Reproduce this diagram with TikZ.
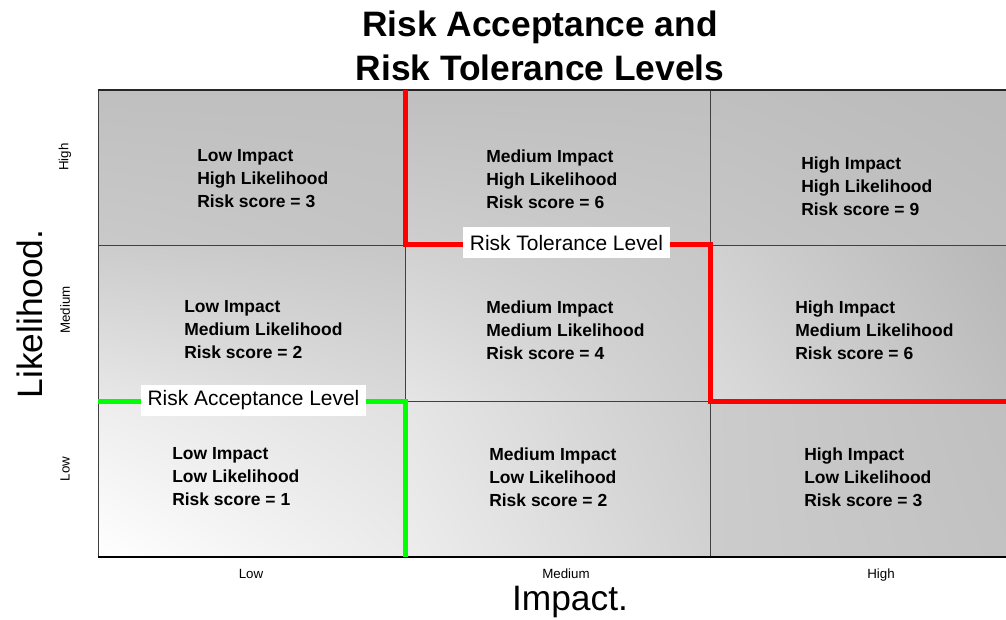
\documentclass[tikz,border=0pt]{standalone}
\usepackage{fontspec}
\setmainfont{Liberation Sans}
\usetikzlibrary{positioning,calc,shadings}
\tikzset{
  cellline/.style={draw=black!75,line width=0.6pt},
  frameline/.style={draw=black!85,line width=1.5pt},
  tolerance/.style={draw=red,line width=3.75pt},
  acceptance/.style={draw=green,line width=3.75pt},
  leveltag/.style={fill=white,inner xsep=5pt,minimum height=23.25pt,
    font=\fontsize{15.7}{18}\selectfont},
}

\begin{document}
\begin{tikzpicture}[x=0.75pt,y=-0.75pt,
      celltext/.style={anchor=west,align=left,inner xsep=0pt,
        font=\bfseries\fontsize{13.1}{17.3}\selectfont},
      ticklabel/.style={font=\fontsize{10}{12}\selectfont},
      axislabel/.style={font=\fontsize{26.5}{30}\selectfont},]
      \useasboundingbox (0,0) rectangle (1006,620);

      % shaded cells: x1/x2/y1/y2 and grey levels at the four corners
      \foreach \xa/\xb/\ya/\yb/\ll/\ul/\lr/\ur in {
          98/405/557/401/0/7/8/12, 405/710/557/401/7/10/18/20,
          710/1006/557/401/20/20/24/25,
          98/405/401/245/9/20/15/22, 405/710/401/245/10/18/20/22,
          710/1006/401/245/14/18/25/28,
          98/405/245/90/21/25/23/25, 405/710/245/90/19/25/22/25,
          710/1006/245/90/22/25/25/27}
        \shade[lower left=black!\ll,upper left=black!\ul,
          lower right=black!\lr,upper right=black!\ur] (\xa,\ya) rectangle (\xb,\yb);

      \draw[cellline] (98,245) -- (1006,245);
      \draw[cellline] (98,401) -- (1006,401);
      \draw[cellline] (405,90) -- (405,557);
      \draw[cellline] (710,90) -- (710,557);
      \draw[cellline] (98,90) -- (98,557);
      \draw[frameline] (98,90) -- (1006,90);
      \draw[frameline,draw=black] (98,557) -- (1006,557);

      % level boundaries
      \coordinate (tol1) at (405,90);
      \coordinate (tol2) at (405,245);
      \coordinate (tol3) at (710,245);
      \coordinate (tol4) at (710,401);
      \coordinate (tol5) at (1006,401);
      \draw[tolerance] (tol1) -- (tol2) -- (tol3) -- (tol4) -- (tol5);
      \coordinate (acc1) at (98,401);
      \coordinate (acc2) at (405,401);
      \coordinate (acc3) at (405,557);
      \draw[acceptance] (acc1) -- (acc2) -- (acc3);
      \node[leveltag] (toltag) at (566.5,243) {Risk Tolerance Level};
      \node[leveltag] (acctag) at (253.5,400) {Risk Acceptance Level};

      % cell texts
      \node[celltext] (hl) at (197,179) {Low Impact\\High Likelihood\\Risk score = 3};
      \node[celltext] (hm) at (486,179) {Medium Impact\\High Likelihood\\Risk score = 6};
      \node[celltext] (hh) at (801,186) {High Impact\\High Likelihood\\Risk score = 9};
      \node[celltext] (ml) at (184,330) {Low Impact\\Medium Likelihood\\Risk score = 2};
      \node[celltext] (mm) at (486,330) {Medium Impact\\Medium Likelihood\\Risk score = 4};
      \node[celltext] (mh) at (795,330) {High Impact\\Medium Likelihood\\Risk score = 6};
      \node[celltext] (ll) at (172,477) {Low Impact\\Low Likelihood\\Risk score = 1};
      \node[celltext] (lm) at (489,477) {Medium Impact\\Low Likelihood\\Risk score = 2};
      \node[celltext] (lh) at (804,477) {High Impact\\Low Likelihood\\Risk score = 3};

      % axes
      \node[ticklabel,anchor=base] (xlow) at (251,578) {Low};
      \node[ticklabel,anchor=base] (xmed) at (566,578) {Medium};
      \node[ticklabel,anchor=base] (xhigh) at (881,578) {High};
      \node[ticklabel,rotate=90] (ylow) at (65,469) {Low};
      \node[ticklabel,rotate=90] (ymed) at (65,310) {Medium};
      \node[ticklabel,rotate=90] (yhigh) at (65,157) {High};
      \node[axislabel] (xname) at (570,602) {Impact.};
      \node[axislabel,rotate=90] (yname) at (30,314) {Likelihood.};

      \node[align=center,font=\bfseries\fontsize{26.5}{33}\selectfont] (title)
        at (540,46) {Risk Acceptance and\\Risk Tolerance Levels};
      \end{tikzpicture}
\end{document}
